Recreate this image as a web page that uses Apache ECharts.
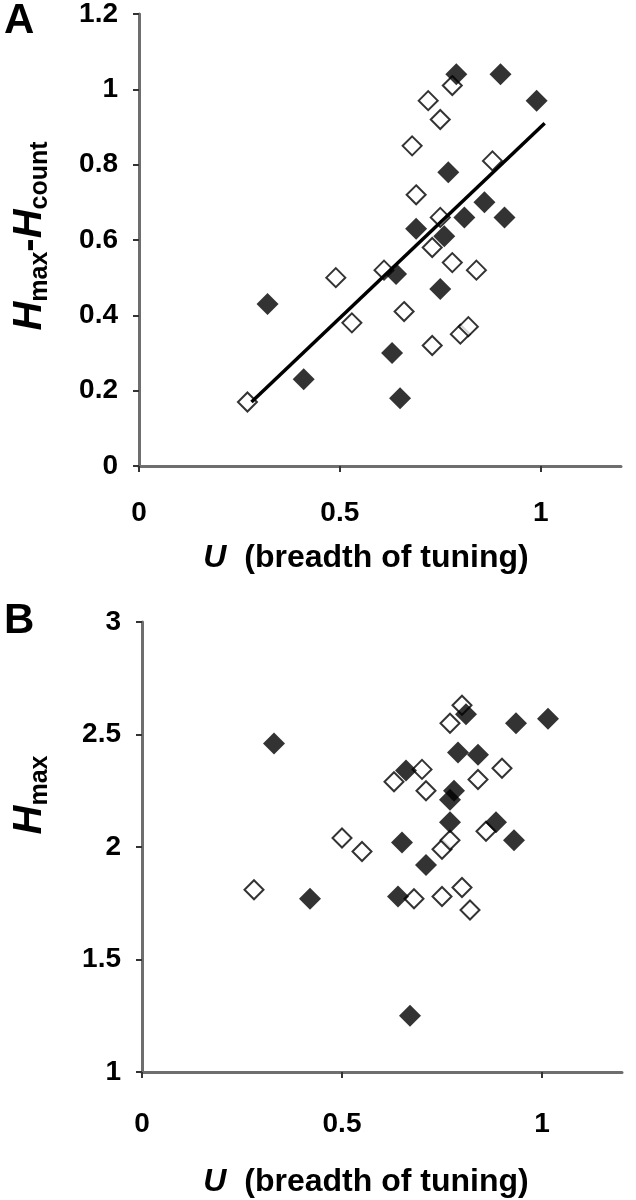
<!DOCTYPE html>
<html>
<head>
<meta charset="utf-8">
<script src="https://cdn.jsdelivr.net/npm/echarts@6/dist/echarts.min.js"></script>
<style>
  html, body { margin: 0; padding: 0; background: #fff; }
  #chart { width: 636px; height: 1200px; }
</style>
</head>
<body>
<div id="chart"></div>
<script>
// panel A: Hmax - Hcount vs U
const aFilledU = [0.32, 0.41, 0.63, 0.65, 0.75, 0.64, 0.76, 0.79, 0.90, 0.99, 0.77, 0.81, 0.86, 0.91, 0.69];
const aFilledY = [0.43, 0.23, 0.30, 0.18, 0.47, 0.51, 0.61, 1.04, 1.04, 0.97, 0.78, 0.66, 0.70, 0.66, 0.63];
const aOpenU = [0.27, 0.49, 0.53, 0.61, 0.66, 0.73, 0.80, 0.82, 0.73, 0.78, 0.84, 0.78, 0.72, 0.75, 0.68, 0.69, 0.75, 0.88];
const aOpenY = [0.17, 0.50, 0.38, 0.52, 0.41, 0.32, 0.35, 0.37, 0.58, 0.54, 0.52, 1.01, 0.97, 0.92, 0.85, 0.72, 0.66, 0.81];
// regression line end points
const fitU = [0.28, 1.01];
const fitY = [0.17, 0.91];

// panel B: Hmax vs U
const bFilledU = [0.33, 0.42, 0.64, 0.67, 0.65, 0.66, 0.71, 0.77, 0.77, 0.78, 0.79, 0.81, 0.84, 0.885, 0.93, 0.935, 1.015];
const bFilledY = [2.46, 1.77, 1.78, 1.25, 2.02, 2.34, 1.92, 2.11, 2.21, 2.25, 2.42, 2.59, 2.41, 2.11, 2.03, 2.55, 2.57];
const bOpenU = [0.28, 0.50, 0.55, 0.63, 0.68, 0.70, 0.71, 0.75, 0.75, 0.77, 0.77, 0.80, 0.80, 0.82, 0.84, 0.86, 0.90];
const bOpenY = [1.81, 2.04, 1.98, 2.29, 1.77, 2.345, 2.25, 1.99, 1.78, 2.03, 2.55, 2.63, 1.82, 1.72, 2.30, 2.07, 2.35];

const xTicks = [0, 0.5, 1];
const aYTicks = [0, 0.2, 0.4, 0.6, 0.8, 1, 1.2];
const bYTicks = [1, 1.5, 2, 2.5, 3];

const pairs = (xs, ys) => xs.map((x, i) => [x, ys[i]]);

const font = '"Liberation Sans", Arial, sans-serif';
const axisGray = '#6e6e6e';

function xAxisFor(gridIndex, margin) {
  return {
    type: 'value', gridIndex: gridIndex, min: 0, max: 1.2, interval: 0.5,
    axisLine: { onZero: false, lineStyle: { color: axisGray, width: 3 } },
    axisTick: { customValues: xTicks, length: 6, lineStyle: { color: '#333', width: 2 } },
    axisLabel: { customValues: xTicks, margin: margin, color: '#000', fontSize: 28, fontWeight: 'bold', fontFamily: font },
    splitLine: { show: false }
  };
}

function yAxisFor(gridIndex, min, max, interval, ticks) {
  return {
    type: 'value', gridIndex: gridIndex, min: min, max: max, interval: interval,
    axisLine: { show: true, onZero: false, lineStyle: { color: axisGray, width: 3 } },
    axisTick: { show: true, customValues: ticks, length: 6, lineStyle: { color: '#333', width: 2 } },
    axisLabel: { customValues: ticks, margin: 21, color: '#000', fontSize: 28, fontWeight: 'bold', fontFamily: font },
    splitLine: { show: false }
  };
}

const filledStyle = { color: '#000' };
const openStyle = { color: '#fff', borderColor: '#000', borderWidth: 2 };

const titleRich = {
  i: { fontSize: 32, fontWeight: 'bold', fontStyle: 'italic', fontFamily: font, color: '#000' },
  n: { fontSize: 32, fontWeight: 'bold', fontFamily: font, color: '#000' }
};
const yRich = {
  h: { fontSize: 40, fontWeight: 'bold', fontStyle: 'italic', fontFamily: font, color: '#000', lineHeight: 46 },
  d: { fontSize: 40, fontWeight: 'bold', fontFamily: font, color: '#000', lineHeight: 46 },
  s: { fontSize: 25, fontWeight: 'bold', fontFamily: font, color: '#000', lineHeight: 22, verticalAlign: 'bottom' }
};

const chart = echarts.init(document.getElementById('chart'));
chart.setOption({
  animation: false,
  backgroundColor: '#fff',
  grid: [
    { left: 139, top: 14, width: 482, height: 452 },
    { left: 142, top: 622, width: 480, height: 450 }
  ],
  xAxis: [xAxisFor(0, 33), xAxisFor(1, 38)],
  yAxis: [yAxisFor(0, 0, 1.2, 0.2, aYTicks), yAxisFor(1, 1, 3, 0.5, bYTicks)],
  series: [
    {
      type: 'line', xAxisIndex: 0, yAxisIndex: 0, data: pairs(fitU, fitY),
      symbol: 'none', lineStyle: { color: '#000', width: 3.5 }, z: 3
    },
    {
      type: 'scatter', xAxisIndex: 0, yAxisIndex: 0, data: pairs(aOpenU, aOpenY),
      symbol: 'diamond', symbolSize: 19, itemStyle: openStyle, z: 2
    },
    {
      type: 'scatter', xAxisIndex: 0, yAxisIndex: 0, data: pairs(aFilledU, aFilledY),
      symbol: 'diamond', symbolSize: 22, itemStyle: filledStyle, z: 2
    },
    {
      type: 'scatter', xAxisIndex: 1, yAxisIndex: 1, data: pairs(bOpenU, bOpenY),
      symbol: 'diamond', symbolSize: 19, itemStyle: openStyle, z: 2
    },
    {
      type: 'scatter', xAxisIndex: 1, yAxisIndex: 1, data: pairs(bFilledU, bFilledY),
      symbol: 'diamond', symbolSize: 22, itemStyle: filledStyle, z: 2
    }
  ],
  graphic: [
    { type: 'text', x: 4, y: 0, style: { text: 'A', font: 'bold 42px ' + font, fill: '#000' } },
    { type: 'text', x: 4, y: 600, style: { text: 'B', font: 'bold 42px ' + font, fill: '#000' } },
    {
      type: 'text', x: 366, y: 558,
      style: { text: '{i|U}{n|  (breadth of tuning)}', rich: titleRich, align: 'center', verticalAlign: 'middle' }
    },
    {
      type: 'text', x: 366, y: 1182,
      style: { text: '{i|U}{n|  (breadth of tuning)}', rich: titleRich, align: 'center', verticalAlign: 'middle' }
    },
    {
      type: 'text', x: 30, y: 236, rotation: Math.PI / 2,
      style: { text: '{h|H}{s|max}{d|-}{h|H}{s|count}', rich: yRich, align: 'center', verticalAlign: 'middle' }
    },
    {
      type: 'text', x: 30, y: 795, rotation: Math.PI / 2,
      style: { text: '{h|H}{s|max}', rich: yRich, align: 'center', verticalAlign: 'middle' }
    }
  ]
});
</script>
</body>
</html>
